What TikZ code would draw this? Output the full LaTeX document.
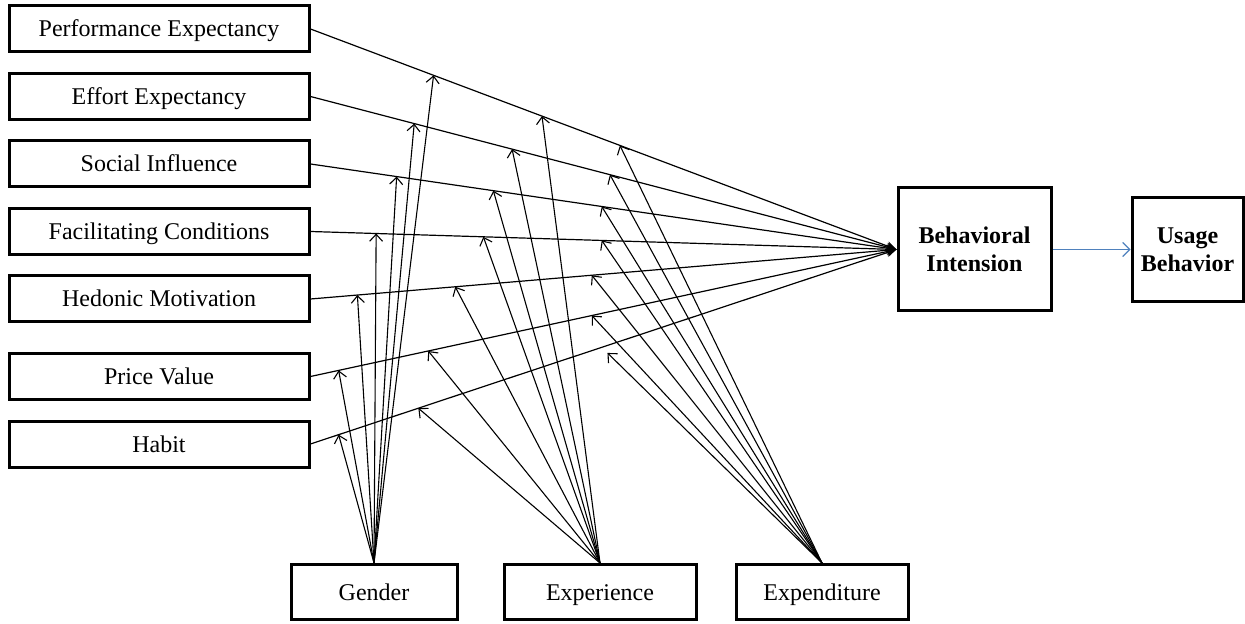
\documentclass[tikz,border=0pt]{standalone}
\usepackage{fontspec}
\setmainfont{Liberation Serif}
\usetikzlibrary{positioning,arrows.meta}
\definecolor{linkblue}{RGB}{79,129,189}

\begin{document}
\begin{tikzpicture}[x=0.5pt,y=-0.5pt,
  box/.style={draw, line width=1.5pt, inner sep=0pt, font=\fontsize{12}{14}\selectfont},
  lbox/.style={box, minimum width=150pt, minimum height=23pt, text height=8pt, text depth=0pt},
  mbox/.style={box, minimum height=27.5pt, text height=8pt, text depth=0pt},
  inarrow/.style={line width=0.6pt, -{Stealth[length=5pt,width=4.5pt]}},
  modarrow/.style={line width=0.55pt, -{Straight Barb[length=3.5pt,width=6.5pt]}}]

\useasboundingbox (0,0) rectangle (1245,624);

% constructs on the left
\node[lbox] (pe) at (159,29) {Performance Expectancy};
\node[lbox, below=9.25pt of pe] (ee) {Effort Expectancy};
\node[lbox, below=9.25pt of ee] (si) {Social Influence};
\node[lbox, below=9.25pt of si] (fc) {Facilitating Conditions};
\node[lbox, below=9.25pt of fc] (hm) {Hedonic Motivation};
\node[lbox, below=14.25pt of hm] (pv) {Price Value};
\node[lbox, below=9.25pt of pv] (hb) {Habit};

% intention and behavior
\node[box, minimum width=76.5pt, minimum height=61.5pt, align=center, font=\fontsize{12}{14}\selectfont\bfseries] (bi) at (974.5,249.5) {Behavioral\\Intension};
\node[box, minimum width=55.5pt, minimum height=52pt, align=center, font=\fontsize{12}{14}\selectfont\bfseries, right=39pt of bi] (ub) {Usage\\Behavior};

% moderators
\node[mbox, minimum width=83pt] (gen) at (374,592) {Gender};
\node[mbox, minimum width=96pt, right=22pt of gen] (exper) {Experience};
\node[mbox, minimum width=86pt, right=18.5pt of exper] (expend) {Expenditure};

% paths into intention, with points for the moderators
\draw[inarrow] (pe.east) -- coordinate[pos=.210] (pe-g) coordinate[pos=.395] (pe-x) coordinate[pos=.528] (pe-e) (bi.west);
\draw[inarrow] (ee.east) -- coordinate[pos=.177] (ee-g) coordinate[pos=.344] (ee-x) coordinate[pos=.511] (ee-e) (bi.west);
\draw[inarrow] (si.east) -- coordinate[pos=.147] (si-g) coordinate[pos=.312] (si-x) coordinate[pos=.497] (si-e) (bi.west);
\draw[inarrow] (fc.east) -- coordinate[pos=.112] (fc-g) coordinate[pos=.295] (fc-x) coordinate[pos=.497] (fc-e) (bi.west);
\draw[inarrow] (hm.east) -- coordinate[pos=.080] (hm-g) coordinate[pos=.247] (hm-x) coordinate[pos=.480] (hm-e) (bi.west);
\draw[inarrow] (pv.east) -- coordinate[pos=.048] (pv-g) coordinate[pos=.201] (pv-x) coordinate[pos=.480] (pv-e) (bi.west);
\draw[inarrow] (hb.east) -- coordinate[pos=.048] (hb-g) coordinate[pos=.184] (hb-x) coordinate[pos=.497] (hb-e) (bi.west);

\draw[line width=0.6pt, linkblue, -{Straight Barb[length=3.5pt,width=7pt]}] (bi.east) -- (ub.west);

% moderating arrows
\foreach \c in {pe,ee,si,fc,hm,pv,hb} \draw[modarrow] (gen.north) -- (\c-g);
\foreach \c in {pe,ee,si,fc,hm,pv,hb} \draw[modarrow] (exper.north) -- (\c-x);
\foreach \c in {pe,ee,si,fc,hm,pv} \draw[modarrow] (expend.north) -- (\c-e);
\draw[modarrow, shorten >=4pt] (expend.north) -- (hb-e);
\end{tikzpicture}
\end{document}
